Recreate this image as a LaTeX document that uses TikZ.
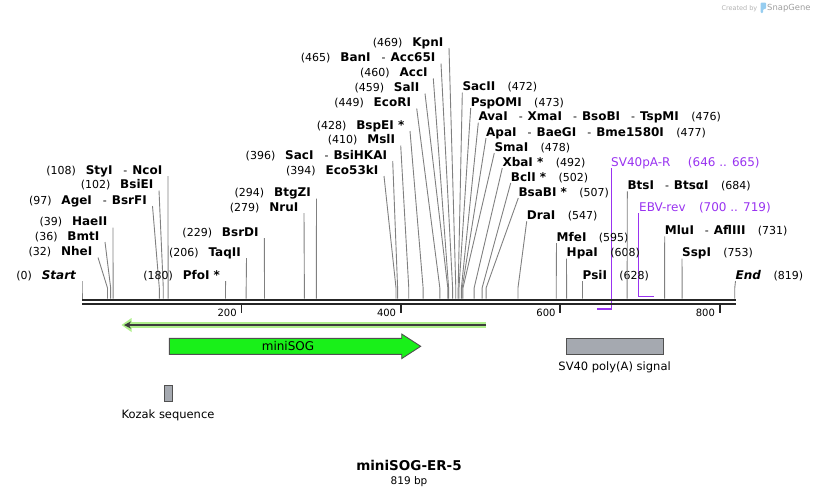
\documentclass[tikz,border=0pt]{standalone}
\usepackage{fontspec}
\setmainfont{DejaVu Sans}[ItalicFont={DejaVu Sans Oblique},BoldFont={DejaVu Sans Bold},BoldItalicFont={DejaVu Sans Bold Oblique}]
\usetikzlibrary{arrows.meta}
\definecolor{siteg}{RGB}{128,128,128}
\definecolor{primc}{RGB}{153,51,240}
\definecolor{orfg}{RGB}{175,240,140}
\definecolor{orfd}{RGB}{60,60,60}
\definecolor{sogg}{RGB}{25,240,25}
\definecolor{featgray}{RGB}{165,169,176}
\definecolor{featline}{RGB}{80,80,80}
\definecolor{logoblue}{RGB}{150,205,240}
\newcommand{\sepd}{\hspace{11pt}{\mdseries\fontsize{11}{13}\selectfont -}\hspace{5pt}}
% left-side label: id, line-top x, baseline, name, number, bp
\newcommand{\enzL}[6]{%
  \node[enzname, anchor=base east] (#1) at ({#2-5.5},{#3}) {#4};
  \node[enznum, anchor=base east] (#1n) at ([xshift=-9.5pt]#1.base west) {#5};
  \coordinate (#1b) at ({82+0.797*#6},298.5);
  \draw[siteline] ([xshift=5.5pt,yshift=-2pt]#1.base east) -- ({82+0.797*#6},288) -- (#1b);
}
% right-side label
\newcommand{\enzR}[6]{%
  \node[enzname, anchor=base west] (#1) at ({#2},{#3}) {#4};
  \node[enznum, anchor=base west] (#1n) at ([xshift=12pt]#1.base east) {#5};
  \coordinate (#1b) at ({82+0.797*#6},298.5);
  \draw[siteline] ([yshift=-2pt]#1.base west) -- ({82+0.797*#6},288) -- (#1b);
}
\begin{document}
\begin{tikzpicture}[x=1pt,y=-1pt,
  enzname/.style={inner sep=0pt, font=\fontsize{12}{14}\selectfont\bfseries},
  enznum/.style={inner sep=0pt, font=\fontsize{11}{13}\selectfont},
  siteline/.style={draw=siteg, line width=0.9pt},
  primline/.style={draw=primc, line width=1.6pt},
  primtext/.style={inner sep=0pt, text=primc, font=\fontsize{12}{14}\selectfont},
  featbox/.style={draw=featline, line width=0.9pt},
  featlabel/.style={inner sep=0pt, font=\fontsize{11.5}{14}\selectfont},
  ticklabel/.style={inner sep=0pt, font=\fontsize{10}{12}\selectfont}]
\useasboundingbox (0,0) rectangle (818,496);

% Created by SnapGene
\node[anchor=base east, inner sep=0pt, text=black!30, font=\fontsize{6.5}{8}\selectfont] (sgby) at (757.5,10.5) {Created by};
\fill[logoblue, rounded corners=1pt] (760.5,2.5) -- (766,2.5) -- (766,9) -- (763,9) -- (763,13) -- (760.5,13) -- cycle;
\node[anchor=base west, inner sep=0pt, text=black!38, font=\fontsize{8.4}{10}\selectfont] (sgname) at (767,10.5) {SnapGene};

% primers (drawn beneath the sequence line)
\node[primtext, anchor=base west] (sv40r) at (611,166) {SV40pA-R};
\node[primtext, anchor=base west] (sv40rn) at ([xshift=17pt]sv40r.base east) {(646 .. 665)};
\coordinate (sv40ra) at (611.5,309);
\coordinate (sv40rb) at (597,309);
\draw[primline] ([xshift=0.5pt,yshift=-2pt]sv40r.base west) -- (sv40ra) -- (sv40rb);
\node[primtext, anchor=base west] (ebv) at (639,211) {EBV-rev};
\node[primtext, anchor=base west] (ebvn) at ([xshift=13pt]ebv.base east) {(700 .. 719)};
\coordinate (ebva) at (638.5,296.5);
\coordinate (ebvb) at (654,296.5);
\draw[primline] ([xshift=-0.5pt,yshift=-2pt]ebv.base west) -- (ebva) -- (ebvb);

% sequence line
\coordinate (s0) at (82,299.8);
\coordinate (s1) at (736,299.8);
\coordinate (t0) at (82,304);
\coordinate (t1) at (736,304);
\draw[line width=2.4pt, black!85] (s0) -- (s1);
\draw[line width=2.6pt, black!85] (t0) -- (t1);
\foreach \v/\xx in {200/241.4,400/400.8,600/560.2,800/719.6}{
  \draw[line width=1.8pt, black!85] (\xx,305) -- (\xx,312.5);
  \node[ticklabel, anchor=base east] (tick\v) at (\xx-4.5,316.5) {\v};
}

% left-side enzyme labels
\enzL{start}{82}{279}{\textit{Start}}{(0)}{0}
\enzL{nhe}{98}{255.5}{NheI}{(32)}{32}
\enzL{bmt}{105}{240}{BmtI}{(36)}{36}
\enzL{hae}{113}{225.5}{HaeII}{(39)}{39}
\enzL{age}{152.5}{204}{AgeI\sepd BsrFI}{(97)}{97}
\enzL{bsie}{159}{188.5}{BsiEI}{(102)}{102}
\enzL{sty}{168}{174}{StyI\sepd NcoI}{(108)}{108}
\enzL{pfo}{225.7}{279}{PfoI *}{(180)}{180}
\enzL{taq}{246.5}{256}{TaqII}{(206)}{206}
\enzL{bsrd}{264.3}{236}{BsrDI}{(229)}{229}
\enzL{nru}{304}{211}{NruI}{(279)}{279}
\enzL{btgz}{316.5}{196.5}{BtgZI}{(294)}{294}
\enzL{ecok}{384}{174}{Eco53kI}{(394)}{394}
\enzL{saci}{392.7}{159}{SacI\sepd BsiHKAI}{(396)}{396}
\enzL{msl}{400.7}{143.5}{MslI}{(410)}{410}
\enzL{bspe}{410}{129}{BspEI *}{(428)}{428}
\enzL{ecori}{416.7}{106.5}{EcoRI}{(449)}{449}
\enzL{sal}{425}{91.5}{SalI}{(459)}{459}
\enzL{acc}{433.3}{76.5}{AccI}{(460)}{460}
\enzL{ban}{441}{61.5}{BanI\sepd Acc65I}{(465)}{465}
\enzL{kpn}{449}{46}{KpnI}{(469)}{469}

% right-side enzyme labels
\enzR{sacii}{462.3}{90.7}{SacII}{(472)}{472}
\enzR{psp}{470.7}{106}{PspOMI}{(473)}{473}
\enzR{ava}{478.3}{120.7}{AvaI\sepd XmaI\sepd BsoBI\sepd TspMI}{(476)}{476}
\enzR{apa}{486}{136}{ApaI\sepd BaeGI\sepd Bme1580I}{(477)}{477}
\enzR{sma}{494.3}{151}{SmaI}{(478)}{478}
\enzR{xba}{502.3}{166}{XbaI *}{(492)}{492}
\enzR{bcl}{510.7}{181}{BclI *}{(502)}{502}
\enzR{bsab}{518.3}{196}{BsaBI *}{(507)}{507}
\enzR{dra}{526.7}{219.3}{DraI}{(547)}{547}
\enzR{mfe}{556.5}{241}{MfeI}{(595)}{595}
\enzR{hpa}{566.5}{256.5}{HpaI}{(608)}{608}
\enzR{psi}{582.5}{279}{PsiI}{(628)}{628}
\enzR{bts}{627.3}{189.3}{BtsI\sepd BtsαI}{(684)}{684}
\enzR{mlu}{664.7}{234.3}{MluI\sepd AflIII}{(731)}{731}
\enzR{ssp}{682}{256.7}{SspI}{(753)}{753}
\enzR{end}{735.5}{279}{\textit{End}}{(819)}{819}

% ORF arrow
\coordinate (orfR) at (486,325);
\coordinate (orfL) at (129,325);
\coordinate (orfT) at (124,325);
\draw[orfg, line width=5.5pt] (orfR) -- (orfL);
\fill[orfg] (121.5,325) -- (131.5,318) -- (131.5,332) -- cycle;
\draw[orfd, line width=1.5pt, -{Stealth[length=7pt,width=7pt]}] (orfR) -- (orfT);

% miniSOG feature
\draw[featbox, fill=sogg] (169.3,338.3) -- (401.7,338.3) -- (401.7,334) -- (420.7,346.3) -- (401.7,358.6) -- (401.7,354.3) -- (169.3,354.3) -- cycle;
\node[inner sep=0pt, font=\fontsize{12}{14}\selectfont] (sog) at (288,346.3) {miniSOG};

% SV40 poly(A) signal
\draw[featbox, fill=featgray] (566,338.3) rectangle (663.3,354.3);
\node[featlabel, anchor=base] (sv40) at (614.6,370.5) {SV40 poly(A) signal};

% Kozak sequence
\draw[featbox, fill=featgray] (164.5,385) rectangle (172.5,401.5);
\node[featlabel, anchor=base] (kozak) at (168,418.5) {Kozak sequence};

% title
\node[inner sep=0pt, anchor=base, font=\fontsize{13.5}{16}\selectfont\bfseries] (title) at (409,470) {miniSOG-ER-5};
\node[inner sep=0pt, anchor=base, font=\fontsize{10.5}{12}\selectfont] (bp) at (409,484) {819 bp};
\end{tikzpicture}
\end{document}
